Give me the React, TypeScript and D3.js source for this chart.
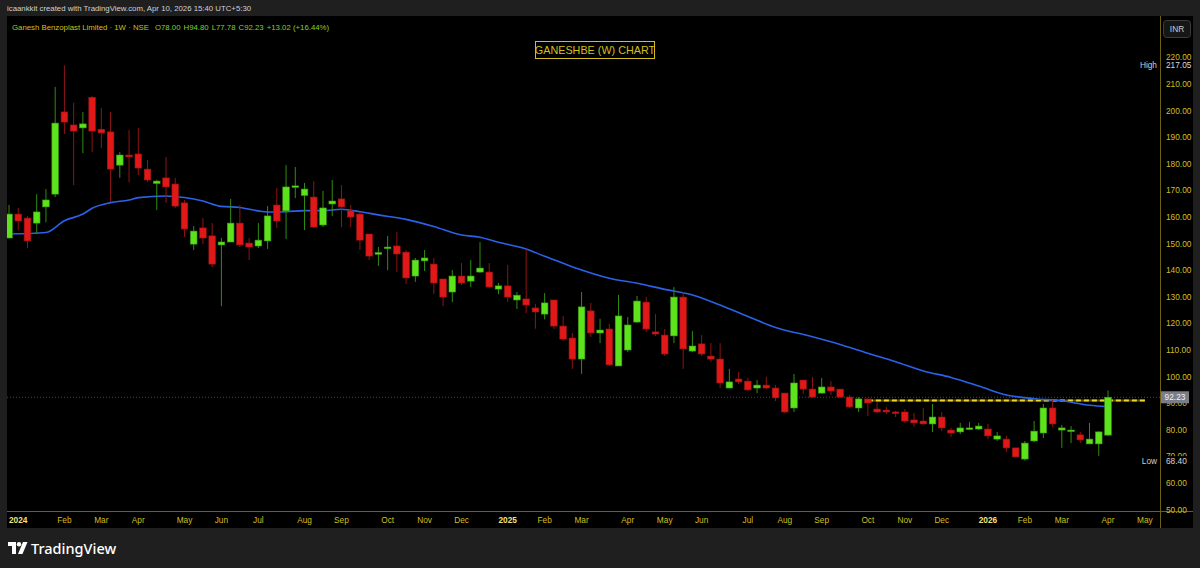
import React from "react";
import * as d3 from "d3";

// weekly bars, first bar = week of 25 Dec 2023
const firstWeek = new Date(2023, 11, 25);

const opens = [
  152.1, 161.1, 159.6, 157.7, 163.8, 168.6, 199.5, 194.6, 193.5, 205,
  193, 192, 179.5, 183.3, 183.7, 178, 172.6, 174.7, 172.4, 165.3,
  149.8, 155.9, 152.9, 149.5, 150.6, 157.7, 150.2, 149.1, 151, 164.5,
  162.3, 171.3, 168.1, 167.5, 157, 164.9, 166.8, 162.3, 161.1, 153.6,
  146, 148.3, 149.1, 146.8, 137.8, 143.5, 142.3, 136.7, 131.8, 137.8,
  135.9, 139.3, 139.3, 132.9, 134.1, 128.8, 129.2, 125.8, 123.5, 128.8,
  119, 114.5, 106.6, 124.7, 116.4, 117.9, 104, 110, 120.5, 128,
  116.8, 115.6, 115.3, 129.9, 109.6, 112.3, 107.7, 106.6, 95.7, 99.1,
  98.3, 95.7, 96.8, 95.7, 93.8, 88.2, 98.7, 95.3, 93.8, 96.1,
  95.3, 92.3, 88.2, 91.6, 87.8, 87.4, 86.7, 86.7, 83.7, 83.3,
  82.2, 84.8, 79.9, 79.2, 80.3, 80.3, 80.3, 76.5, 76.5, 73.2,
  69, 75.8, 78.8, 88.2, 79.9, 79.5, 78.1, 74.7, 74.7, 78.0,
];
const highs = [
  164.5, 163.4, 160.4, 168.6, 170.5, 208.9, 217.05, 202.9, 199.5, 205.5,
  201, 199.5, 184.4, 192.7, 193.5, 181.4, 174, 182.6, 174.7, 166.4,
  156.6, 159.6, 157.7, 152.1, 166.8, 164.5, 152.1, 157.7, 164.1, 170.9,
  179.5, 178.8, 172.8, 173.5, 169.8, 173.9, 172, 164.5, 161.9, 153.6,
  148.7, 152.9, 154.4, 147.6, 144.6, 147.6, 144.6, 136.7, 140.1, 142.7,
  143.8, 150.6, 142.7, 135.2, 142, 131.8, 148, 127.3, 131.4, 128.8,
  122.8, 116.4, 131.8, 127.7, 121.7, 119.8, 130.7, 122.4, 130.3, 129.9,
  123.5, 117.9, 133.7, 131.8, 117.1, 115.6, 112.6, 112.6, 102.9, 101.7,
  99.5, 98.7, 99.9, 96.8, 93.8, 101, 98.7, 99.9, 99.5, 98.3,
  95.3, 93.1, 92.3, 91.6, 90.5, 88.6, 87.1, 87.8, 86.3, 88.2,
  89.7, 86.7, 80.7, 82.6, 82.9, 82.6, 82.2, 79.2, 77.7, 73.2,
  75.8, 83.3, 89.7, 91.2, 81.8, 81.4, 79.2, 82.6, 79.5, 94.8,
];
const lows = [
  152, 155, 148.3, 153.6, 158, 167.5, 191.2, 172, 184, 184.4,
  186, 165.6, 174.7, 173, 175.8, 173.2, 162.6, 165.3, 163.4, 152.5,
  147.6, 149.8, 141.2, 126.5, 150.6, 148.7, 143.8, 148.3, 148, 155.9,
  151.7, 167.1, 155.1, 155.9, 156.2, 160.4, 156.2, 156.2, 147.6, 143.8,
  141.6, 140, 139.3, 134.8, 135.6, 139.7, 131, 126.5, 128, 134.4,
  133.7, 139, 133.3, 131, 128, 125.4, 123.9, 118, 121.5, 117.9,
  113.4, 102.9, 101, 114.9, 112.6, 104, 104, 109.2, 120.2, 116.8,
  115.3, 107.7, 112.6, 102.9, 109.2, 107.7, 105.5, 95.7, 95.7, 97.2,
  94.6, 93.8, 95.3, 90.8, 86.3, 86.7, 93.5, 92, 93.5, 93.1,
  92, 88.2, 86.7, 85.2, 86.3, 85.9, 84.8, 82.6, 81.1, 82.2,
  79.2, 79.5, 77.3, 78.4, 79.9, 79.9, 76.5, 75.8, 71.7, 69.8,
  68.4, 75.4, 76.9, 81.1, 73.2, 75, 75, 74.7, 70.2, 77.78,
];
const closes = [
  161.1, 158.5, 151, 161.9, 166.4, 195.3, 195.7, 192.3, 195, 192.3,
  191.6, 178, 183.3, 182.6, 178.4, 173.9, 173.5, 171.3, 164.1, 155.5,
  154.7, 152.1, 142.3, 150.6, 157.7, 149.5, 148.7, 151.3, 160.4, 158.5,
  171.3, 171.7, 170.5, 156.2, 163.4, 166, 163.8, 160, 151.3, 145.3,
  146.6, 148.7, 146.1, 137.1, 143.8, 144.6, 135.2, 129.9, 137.8, 135.2,
  137.8, 140.8, 133.7, 134.1, 129.9, 130.6, 126.9, 124.3, 127.7, 119,
  114.1, 106.6, 126.2, 116.4, 117.5, 104.4, 122.8, 119.4, 128.4, 117.9,
  116, 108.5, 129.9, 110.4, 111.5, 108.5, 106.6, 97.6, 98, 98,
  95, 96.8, 95.7, 92, 86.7, 97.6, 95.3, 92.3, 96.1, 94.6,
  92.3, 88.6, 91.6, 90.1, 86.7, 86.7, 86.3, 83.3, 82.6, 82.2,
  84.8, 80.7, 78.8, 80.7, 80.7, 81.4, 77.7, 77.7, 73.2, 69.8,
  75, 79.5, 88.2, 82.2, 80.7, 79.9, 76.2, 76.5, 79.21, 92.23,
];

// moving average (bar index, value)
const maBars = [0, 4, 6, 8, 9, 11, 13, 14, 17, 19, 21, 23, 25, 27, 28, 30, 32, 34, 36, 38, 40, 43, 46, 49, 51, 53, 56, 58, 60, 62, 65, 68, 71, 74, 77, 80, 83, 87, 90, 93, 96, 99, 102, 105, 108, 111, 114, 117, 119];
const maValues = [153.6, 154.2, 158.6, 161.1, 163.3, 165.4, 166.4, 167.3, 167.9, 167.3, 166, 164, 163.6, 162.3, 161.9, 162, 162.4, 162.4, 162.9, 162, 160.8, 159.1, 156.4, 153.2, 152.4, 150.5, 148, 145.2, 142.6, 140.1, 137, 135.1, 132.8, 130.7, 126.9, 122.6, 118.5, 115, 112.1, 108.8, 105.6, 102.1, 99.7, 96.5, 93.1, 91.7, 90.9, 89.2, 88.7];

const priceTicks = [220, 210, 200, 190, 180, 170, 160, 150, 140, 130, 120, 110, 100, 90, 80, 70, 60, 50];
const allHigh = 217.05;
const allLow = 68.4;
const lastPrice = 92.23;
const resistance = 91.0;
const resistanceBars = [93, 123];

const headerText = "icaankkit created with TradingView.com, Apr 10, 2026 15:40 UTC+5:30";
const symbolText = "Ganesh Benzoplast Limited · 1W · NSE";
const ohlcParts = ["O78.00", "H94.80", "L77.78", "C92.23", "+13.02 (+16.44%)"];
const titleText = "GANESHBE (W) CHART";

const W = 1200;
const H = 568;
const plot = { left: 7, right: 1160, top: 16, bottom: 511 };
const font = "'Liberation Sans', Arial, sans-serif";
const gold = "#d2bf1e";
const axisLine = "#6f6112";

export default function App() {
  const x = d3.scaleLinear().domain([0, opens.length - 1]).range([9, 1108]);
  const y = d3.scaleLinear().domain([50, 220]).range([509.6, 57.4]);
  const bodyW = 6.6;

  const bars = opens.map((o, i) => ({ i, o, h: highs[i], l: lows[i], c: closes[i] }));

  const maLine = d3
    .line<number>()
    .x((d, k) => x(maBars[k]))
    .y((d) => y(d))
    .curve(d3.curveMonotoneX)(maValues);

  const week = (i: number) => d3.timeDay.offset(firstWeek, i * 7);
  const monthTicks: { i: number; label: string; year: boolean }[] = [];
  for (let i = 1; i <= opens.length + 3; i++) {
    const d = week(i);
    const p = week(i - 1);
    if (d.getMonth() !== p.getMonth()) {
      const yr = d.getMonth() === 0;
      monthTicks.push({ i, label: yr ? String(d.getFullYear()) : d3.timeFormat("%b")(d), year: yr });
    }
  }

  return (
    <svg width={W} height={H} style={{ position: "absolute", left: 0, top: 0, display: "block" }} fontFamily={font}>
      <rect width={W} height={H} fill="#1f1f1f" />
      <text x={7} y={11} fontSize={7.8} fill="#cfd1d6">{headerText}</text>

      {/* chart panel */}
      <rect x={7} y={plot.top} width={1186} height={528 - plot.top} fill="#000" />
      <defs>
        <clipPath id="plotClip">
          <rect x={plot.left} y={plot.top} width={plot.right - plot.left} height={plot.bottom - plot.top} />
        </clipPath>
      </defs>

      <text x={12} y={30} fontSize={7.8}>
        <tspan fill={gold}>{symbolText}</tspan>
        {ohlcParts.map((p, k) => (
          <tspan key={k} fill="#7fd32a" dx={k === 0 ? 6 : 3}>{p}</tspan>
        ))}
      </text>

      <rect x={535.5} y={41.5} width={119} height={17} fill="#000" stroke={gold} />
      <text x={595} y={54} fontSize={10.8} fill={gold} textAnchor="middle">{titleText}</text>

      <g clipPath="url(#plotClip)">
        {/* last price dotted line */}
        <line x1={plot.left} x2={plot.right} y1={y(lastPrice)} y2={y(lastPrice)} stroke="#4a4a4a" strokeDasharray="1 2" />
        {/* resistance level */}
        <line x1={x(resistanceBars[0])} x2={x(resistanceBars[1])} y1={y(resistance)} y2={y(resistance)} stroke="#5c5210" strokeWidth={2} />
        <line x1={x(resistanceBars[0])} x2={x(resistanceBars[1])} y1={y(resistance)} y2={y(resistance)} stroke="#ecd51f" strokeWidth={2} strokeDasharray="5 3" />

        <path d={maLine || ""} fill="none" stroke="#2b62e8" strokeWidth={1.6} />

        {bars.map((b) => {
          const up = b.c >= b.o;
          const top = y(Math.max(b.o, b.c));
          const bot = y(Math.min(b.o, b.c));
          return (
            <g key={b.i}>
              <line x1={x(b.i)} x2={x(b.i)} y1={y(b.h)} y2={y(b.l)} stroke={up ? "#318c12" : "#8f1414"} strokeWidth={1} />
              <rect
                x={x(b.i) - bodyW / 2}
                y={top}
                width={bodyW}
                height={Math.max(1.5, bot - top)}
                fill={up ? "#5ce31c" : "#e01818"}
                stroke={up ? "#3d9a15" : "#9a1515"}
                strokeWidth={0.6}
              />
            </g>
          );
        })}
      </g>

      {/* axes frame */}
      <line x1={plot.right + 0.5} x2={plot.right + 0.5} y1={plot.top} y2={528} stroke={axisLine} />
      <line x1={plot.left} x2={1193} y1={plot.bottom + 0.5} y2={plot.bottom + 0.5} stroke={axisLine} />

      {priceTicks.map((t) => (
        <text key={t} x={1166} y={y(t) + 3} fontSize={8.3} fill={gold}>{t.toFixed(2)}</text>
      ))}

      {/* high / low markers */}
      <text x={1157} y={y(allHigh) + 3} fontSize={8.3} fill="#cfcfcf" textAnchor="end">High</text>
      <rect x={1162} y={y(allHigh) - 4.5} width={28} height={9} fill="#000" />
      <text x={1166} y={y(allHigh) + 3} fontSize={8.3} fill="#d8d8d8">{allHigh.toFixed(2)}</text>
      <text x={1157} y={y(allLow) + 3} fontSize={8.3} fill="#cfcfcf" textAnchor="end">Low</text>
      <rect x={1162} y={y(allLow) - 4.5} width={28} height={9} fill="#000" />
      <text x={1166} y={y(allLow) + 3} fontSize={8.3} fill="#d8d8d8">{allLow.toFixed(2)}</text>

      {/* last price label */}
      <rect x={1161} y={y(lastPrice) - 6} width={28} height={12} fill="#7a7d87" />
      <text x={1175} y={y(lastPrice) + 3} fontSize={8.3} fill="#f0f0f0" textAnchor="middle">{lastPrice.toFixed(2)}</text>

      <rect x={1163.5} y={20.5} width={27} height={17} rx={3} fill="#161616" stroke="#3c3c3c" />
      <text x={1177} y={32} fontSize={8.3} fill="#cfcfcf" textAnchor="middle">INR</text>

      {monthTicks.map((t) => (
        <text
          key={t.i}
          x={x(t.i)}
          y={523}
          fontSize={8.3}
          textAnchor="middle"
          fill={t.year ? "#f2e27a" : gold}
          fontWeight={t.year ? "bold" : "normal"}
        >
          {t.label}
        </text>
      ))}

      {/* TradingView logo */}
      <g transform="translate(8,542)" fill="#ffffff">
        <path d="M0 0 H8 V12 H4 V4 H0 Z" />
        <circle cx={11} cy={2.2} r={2.2} />
        <path d="M15 0 H19.5 L14.5 12 H10 Z" />
      </g>
      <text x={31} y={554} fontSize={14.5} fill="#ffffff" fontFamily="'Noto Sans', 'Open Sans', sans-serif" fontWeight={500}>TradingView</text>
    </svg>
  );
}
